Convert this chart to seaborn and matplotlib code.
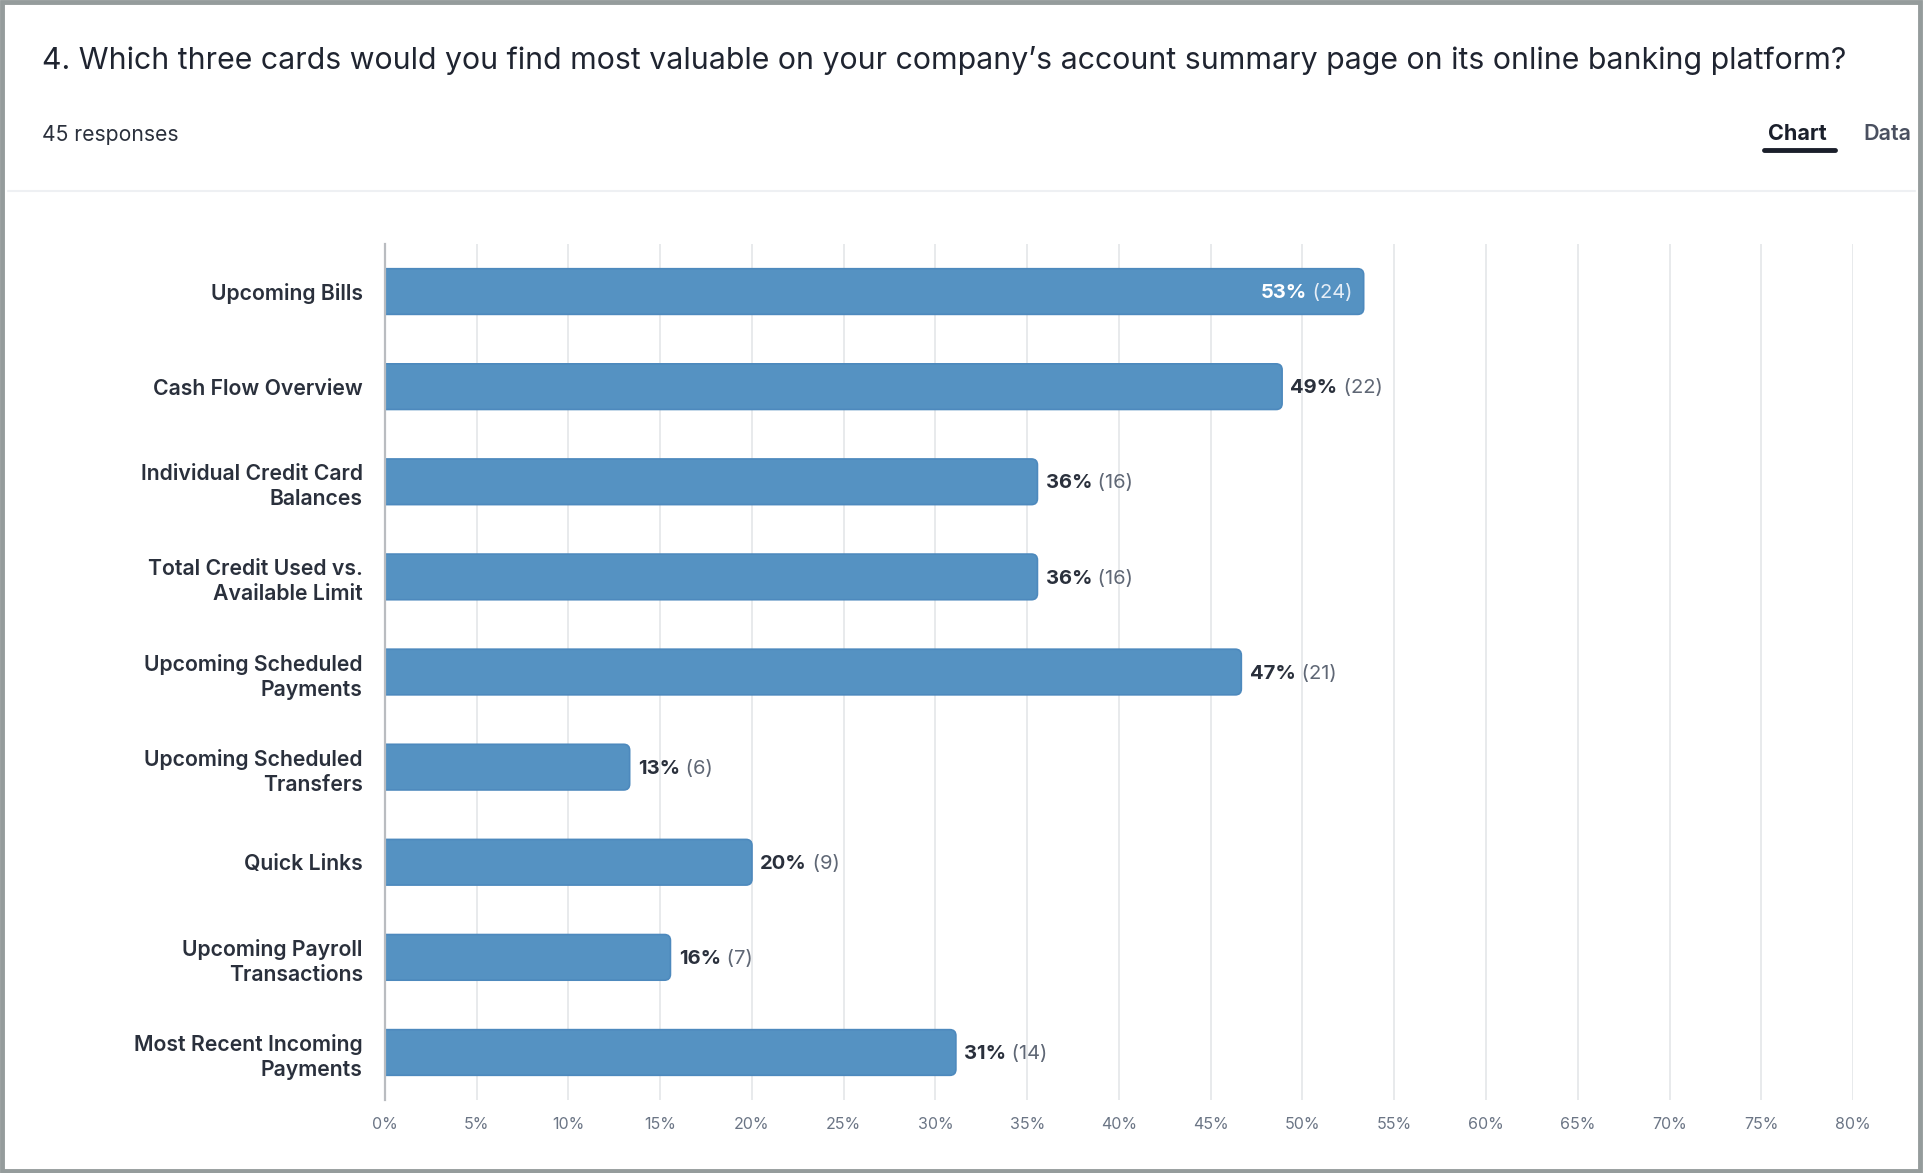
import matplotlib
matplotlib.use("Agg")
import matplotlib.pyplot as plt
from matplotlib.patches import FancyBboxPatch, Rectangle
from matplotlib.lines import Line2D
import seaborn as sns
import pandas as pd

title = "4. Which three cards would you find most valuable on your company\u2019s account summary page on its online banking platform?"
n_responses = 45
categories = [
    "Upcoming Bills",
    "Cash Flow Overview",
    "Individual Credit Card\nBalances",
    "Total Credit Used vs.\nAvailable Limit",
    "Upcoming Scheduled\nPayments",
    "Upcoming Scheduled\nTransfers",
    "Quick Links",
    "Upcoming Payroll\nTransactions",
    "Most Recent Incoming\nPayments",
]
counts = [24, 22, 16, 16, 21, 6, 9, 7, 14]
x_ticks = list(range(0, 85, 5))

df = pd.DataFrame({"card": categories, "count": counts})
df["pct"] = df["count"] / n_responses * 100

bar_color = "#5592c2"
dark = "#2a303c"
grey = "#5f6775"

sns.set_theme(style="white")
plt.rcParams["font.family"] = ["Inter", "DejaVu Sans"]

fig = plt.figure(figsize=(19.23, 11.73), dpi=100)
ax = fig.add_axes([0.2002, 0.0622, 0.7634, 0.7298])

sns.barplot(data=df, y="card", x="pct", color=bar_color, width=0.48,
            saturation=1, ax=ax, orient="h")

ax.set_xlim(0, 80)
ax.set_ylim(8.5, -0.5)

# pixels per data unit, to keep the corner rounding circular
fig.canvas.draw()
px_x = abs(ax.transData.transform((1, 0))[0] - ax.transData.transform((0, 0))[0])
px_y = abs(ax.transData.transform((0, 1))[1] - ax.transData.transform((0, 0))[1])

# swap the plain rectangles for bars with rounded right ends
bars = list(ax.patches)
r = 6 / px_x
for p in bars:
    x0, y0, w, h = p.get_x(), p.get_y(), p.get_width(), p.get_height()
    p.remove()
    ax.add_patch(FancyBboxPatch((x0 - 2 * r, y0), w + 2 * r, h,
                                boxstyle=f"round,pad=0,rounding_size={r}",
                                mutation_aspect=px_x / px_y,
                                facecolor=bar_color, edgecolor="#4d89bd", lw=1.2,
                                zorder=3, clip_on=True))

ax.set_xticks(x_ticks)
ax.set_xticklabels([f"{t}%" for t in x_ticks], fontsize=11.5, color="#6b7585")
ax.tick_params(axis="x", length=0, pad=12.5)
ax.tick_params(axis="y", length=0, pad=16)
for lab in ax.get_yticklabels():
    lab.set_fontsize(15.3)
    lab.set_fontweight("semibold")
    lab.set_color(dark)
    lab.set_linespacing(1.32)
ax.set_xlabel("")
ax.set_ylabel("")
ax.grid(axis="x", color="#e6e8eb", lw=1.3, zorder=0)
ax.set_axisbelow(True)
for s in ["top", "right", "bottom"]:
    ax.spines[s].set_visible(False)
ax.spines["left"].set_color("#b9bcc0")
ax.spines["left"].set_linewidth(1.6)
ax.spines["left"].set_zorder(5)

# value labels: bold percent + grey count
renderer = fig.canvas.get_renderer()
for i, (pct, cnt) in enumerate(zip(df["pct"], df["count"])):
    p_txt = f"{round(pct)}%"
    c_txt = f" ({cnt})"
    if pct > 50:
        t2 = ax.annotate(c_txt, (pct, i), xytext=(-8, -1.2), textcoords="offset points",
                         ha="right", va="center", fontsize=14.5, color="#e4edf6", zorder=6)
        bb = t2.get_window_extent(renderer)
        w_pts = bb.width * 72 / fig.dpi
        ax.annotate(p_txt, (pct, i), xytext=(-8 - w_pts, -1.2), textcoords="offset points",
                    ha="right", va="center", fontsize=14.5, fontweight="bold",
                    color="white", zorder=6)
    else:
        t1 = ax.annotate(p_txt, (pct, i), xytext=(6, -1.2), textcoords="offset points",
                         ha="left", va="center", fontsize=14.5, fontweight="bold",
                         color=dark, zorder=6)
        bb = t1.get_window_extent(renderer)
        w_pts = bb.width * 72 / fig.dpi
        ax.annotate(c_txt, (pct, i), xytext=(6 + w_pts, -1.2), textcoords="offset points",
                    ha="left", va="center", fontsize=14.5, color=grey, zorder=6)

# header
fig.text(0.0217, 0.948, title, fontsize=21.8, color="#1f2430", va="center", ha="left")
fig.text(0.0217, 0.885, f"{n_responses} responses", fontsize=15.2, color="#2a303c",
         va="center", ha="left")
fig.text(0.9346, 0.886, "Chart", fontsize=15.5, fontweight="bold", color="#1a1f2b",
         va="center", ha="center")
fig.text(0.9815, 0.886, "Data", fontsize=15.5, fontweight="semibold", color="#4a5060",
         va="center", ha="center")
fig.add_artist(Line2D([0.9171, 0.9541], [0.8725, 0.8725], color="#1a1f2b", lw=3.5,
                      solid_capstyle="round"))
fig.add_artist(Line2D([0.004, 0.996], [0.837, 0.837], color="#eef0f3", lw=1.5))

# outer frame
fig.add_artist(Rectangle((0.0008, 0.0021), 0.9977, 0.9966, transform=fig.transFigure,
                         fill=False, edgecolor="#959c9c", lw=3.5))

fig.savefig("out.png", dpi=100, facecolor="white")
